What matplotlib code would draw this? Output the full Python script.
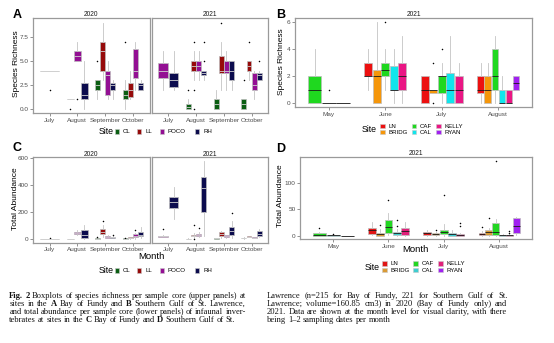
import matplotlib
matplotlib.use("Agg")
import matplotlib.pyplot as plt
from matplotlib.patches import Rectangle

plt.rcParams['font.family'] = ['Liberation Sans', 'DejaVu Sans']

# months on the x axis of each region
bof_months = ["July", "August", "September", "October"]
gsl_months = ["May", "June", "July", "August"]

# sites and fill colours
bof_sites = ["CL", "LL", "POCO", "RH"]
bof_colors = ["#0b5e13", "#960a0a", "#930f93", "#0c0c4e"]
gsl_sites = ["LN", "BRIDG", "CAF", "CAL", "KELLY", "RYAN"]
gsl_colors = ["#ec1010", "#f5960a", "#1fd81f", "#10e5ec", "#ea1684", "#a020f0"]
gsl_colors_ab = ["#e01515", "#d99a35", "#22d622", "#3fcdd0", "#e0207a", "#a020f0"]

# rows: month, site, whisker low, q1, median, q3, whisker high, outliers
rich_bof_2020 = [
    ("July", "CL", 4, 4, 4, 4, 4, [2]),
    ("August", "CL", 1, 1, 1, 1, 1, [0]),
    ("August", "POCO", 5, 5, 5.5, 6, 7, [1]),
    ("August", "RH", 0, 1, 1.5, 2.75, 5, []),
    ("September", "CL", 1, 2, 2.5, 3, 3, [5]),
    ("September", "LL", 3, 4, 6, 7, 9, []),
    ("September", "POCO", 1, 1.5, 3.5, 4, 5, []),
    ("September", "RH", 1, 2, 2.5, 2.75, 3, []),
    ("October", "CL", 0, 1, 1.5, 2, 3, [7]),
    ("October", "LL", 1, 1.25, 2, 2.75, 4, []),
    ("October", "POCO", 2, 3.25, 4, 6.25, 7, []),
    ("October", "RH", 2, 2, 2.5, 2.75, 3, []),
]
rich_bof_2021 = [
    ("July", "POCO", 2, 3.25, 4, 4.75, 6, []),
    ("July", "RH", 2, 2.25, 3, 3.75, 6, []),
    ("August", "CL", 0, 0, 0.25, 0.5, 1, [2]),
    ("August", "LL", 3, 4, 4.5, 5, 6, [7, 2, 0]),
    ("August", "POCO", 3, 4, 4.5, 5, 6, []),
    ("August", "RH", 3, 3.5, 3.75, 4, 4, [5, 7]),
    ("September", "CL", 0, 0, 0.5, 1, 2, []),
    ("September", "LL", 2, 3.75, 4, 5.5, 7, [9]),
    ("September", "POCO", 2, 3.75, 4, 5, 6, []),
    ("September", "RH", 2, 3, 4, 5, 5, []),
    ("October", "CL", 0, 0, 0.5, 1, 1, [3]),
    ("October", "LL", 3, 4, 4.5, 5, 5, [7]),
    ("October", "POCO", 1, 2, 2.5, 3.75, 4, []),
    ("October", "RH", 3, 3, 3.5, 3.75, 4, [5]),
]
rich_gsl_2021 = [
    ("May", "CAF", 0, 0, 1, 2, 4, []),
    ("May", "CAL", 0, 0, 0, 0, 0, [1]),
    ("May", "KELLY", 0, 0, 0, 0, 0, []),
    ("June", "LN", 1, 2, 2, 3, 4, []),
    ("June", "BRIDG", 0, 0, 2, 2.5, 6, []),
    ("June", "CAF", 1, 2, 2.5, 3, 4, [6]),
    ("June", "CAL", 0, 1, 1, 2.75, 4, []),
    ("June", "KELLY", 0, 1, 2, 3, 5, []),
    ("July", "LN", 0, 0, 1, 2, 2, []),
    ("July", "BRIDG", 0.75, 0.75, 1, 1, 1, [0, 3]),
    ("July", "CAF", 0, 0.75, 2, 2, 3, [4]),
    ("July", "CAL", 0, 0, 1, 2.25, 5, []),
    ("July", "KELLY", 0, 0, 1, 2, 3, []),
    ("August", "LN", 0, 0.75, 1, 2, 3, []),
    ("August", "BRIDG", 0, 0, 1, 2, 3, []),
    ("August", "CAF", 0, 1, 2, 4, 5, []),
    ("August", "CAL", 0, 0, 0, 1, 2, []),
    ("August", "KELLY", 0, 0, 0, 1, 1, []),
    ("August", "RYAN", 1, 1, 1.5, 2, 2, []),
]
abund_bof_2020 = [
    ("July", "CL", 0, 2, 2, 2, 4, [8]),
    ("August", "CL", 0, 0, 0, 0, 0, []),
    ("August", "POCO", 25, 35, 45, 50, 65, []),
    ("August", "RH", 0, 5, 30, 62, 105, []),
    ("September", "CL", 0, 1, 2, 3, 5, [10]),
    ("September", "LL", 15, 35, 52, 70, 100, [135]),
    ("September", "POCO", 5, 8, 12, 18, 25, []),
    ("September", "RH", 5, 8, 10, 14, 20, [25]),
    ("October", "CL", 0, 1, 2, 3, 5, [8]),
    ("October", "LL", 2, 4, 6, 10, 15, []),
    ("October", "POCO", 2, 10, 20, 32, 45, [68]),
    ("October", "RH", 5, 18, 28, 50, 90, []),
]
abund_bof_2021 = [
    ("July", "POCO", 10, 15, 18, 22, 30, [70]),
    ("July", "RH", 145, 230, 270, 307, 382, []),
    ("August", "CL", 0, 0, 0, 2, 3, []),
    ("August", "LL", 8, 18, 22, 27, 40, [100, 0]),
    ("August", "POCO", 15, 20, 25, 35, 50, [80]),
    ("August", "RH", 20, 200, 375, 462, 580, []),
    ("September", "CL", 0, 1, 3, 5, 8, []),
    ("September", "LL", 5, 17, 35, 50, 60, []),
    ("September", "POCO", 8, 12, 18, 25, 30, []),
    ("September", "RH", 5, 25, 55, 87, 130, [190]),
    ("October", "CL", 0, 3, 5, 8, 10, []),
    ("October", "LL", 10, 12, 15, 18, 20, []),
    ("October", "POCO", 3, 5, 8, 10, 12, []),
    ("October", "RH", 10, 20, 35, 55, 70, []),
]
abund_gsl_2021 = [
    ("May", "CAF", 0, 0, 2, 4.5, 6, [14]),
    ("May", "CAL", 0, 0, 1, 1, 2, [3]),
    ("May", "KELLY", 0, 0, 0, 0, 0, []),
    ("June", "LN", 2, 3, 10, 14, 26, []),
    ("June", "BRIDG", 0, 0, 3, 5, 12, [20]),
    ("June", "CAF", 2, 4.5, 17, 30, 42, [68]),
    ("June", "CAL", 0, 2, 4, 7, 12, [18, 29]),
    ("June", "KELLY", 0, 1, 8, 14, 26, []),
    ("July", "LN", 0, 1, 4, 7, 11, []),
    ("July", "BRIDG", 0, 1, 3, 4, 7, [11]),
    ("July", "CAF", 0, 3, 6, 10, 22, [76]),
    ("July", "CAL", 0, 0, 3, 5, 10, []),
    ("July", "KELLY", 0, 0, 2, 3, 5, [19, 24]),
    ("August", "LN", 0, 1, 3, 5, 8, [16]),
    ("August", "BRIDG", 0, 1, 7.5, 10, 15, [33]),
    ("August", "CAF", 0, 1, 7, 24, 32, [141]),
    ("August", "CAL", 0, 0, 1, 2, 3, []),
    ("August", "KELLY", 0, 0, 1, 2, 3, [5, 8]),
    ("August", "RYAN", 2, 5, 19, 33, 35, []),
]

caption_left = [
    "*Fig.* *2* Boxplots of species richness per sample core (upper panels) at",
    "sites in the *A* Bay of Fundy and *B* Southern Gulf of St. Lawrence,",
    "and total abundance per sample core (lower panels) of infaunal inver-",
    "tebrates at sites in the *C* Bay of Fundy and *D* Southern Gulf of St.",
]
caption_right = [
    "Lawrence (n=215 for Bay of Fundy, 221 for Southern Gulf of St.",
    "Lawrence; volume=160.85 cm3) in 2020 (Bay of Fundy only) and",
    "2021. Data are shown at the month level for visual clarity, with there",
    "being 1\u20132 sampling dates per month",
]

W, H = 554, 343
fig = plt.figure(figsize=(W / 100, H / 100), dpi=100)
fig.patch.set_facecolor('white')

GRID = '#9a9a9a'
TICKTXT = '#4d4d4d'


def px_axes(x0, y0, x1, y1):
    return fig.add_axes([x0 / W, 1 - y1 / H, (x1 - x0) / W, (y1 - y0) / H])


def draw_facet(ax, rows, months, sites, colors, med_color, ylim, yticks, ylabels):
    stats, pos, wid, cols = [], [], [], []
    for m, month in enumerate(months, start=1):
        here = [r for r in rows if r[0] == month]
        here.sort(key=lambda r: sites.index(r[1]))
        if not here:
            continue
        w = 0.75 / len(here)
        for i, r in enumerate(here):
            stats.append(dict(whislo=r[2], q1=r[3], med=r[4], q3=r[5],
                              whishi=r[6], fliers=r[7]))
            pos.append(m - 0.375 + w * (i + 0.5))
            wid.append(w * 0.94)
            cols.append(colors[sites.index(r[1])])
    bp = ax.bxp(stats, positions=pos, widths=wid, patch_artist=True,
                showcaps=False, manage_ticks=False,
                boxprops=dict(edgecolor='#bdbdbd', linewidth=0.5),
                whiskerprops=dict(color='#c4c4c4', linewidth=0.6),
                medianprops=dict(color=med_color, linewidth=0.6),
                flierprops=dict(marker='o', markersize=1.1,
                                markerfacecolor='black', markeredgecolor='black',
                                markeredgewidth=0))
    for b, c in zip(bp['boxes'], cols):
        b.set_facecolor(c)
    ax.set_xlim(0.4, 4.6)
    ax.set_ylim(*ylim)
    ax.set_xticks(range(1, 5))
    ax.set_xticklabels(months)
    ax.set_yticks(yticks)
    if ylabels is None:
        ax.tick_params(axis='y', left=False, labelleft=False)
    else:
        ax.set_yticklabels(ylabels)
    ax.tick_params(length=2, width=0.5, color='#666666', labelsize=4.6,
                   labelcolor=TICKTXT, pad=1.2)
    for s in ax.spines.values():
        s.set_color(GRID)
        s.set_linewidth(0.9)


def ftext(x, y, s, **kw):
    return fig.text(x / W, 1 - y / H, s, **kw)


def legend(x_site, y_site, keys, colors):
    ftext(x_site, y_site, "Site", fontsize=6.3, va='center', ha='left')
    for (kx, ky, label), c in zip(keys, colors):
        fig.add_artist(Rectangle(((kx - 2.3) / W, 1 - (ky + 2.3) / H), 4.6 / W, 4.6 / H,
                                 transform=fig.transFigure, facecolor=c,
                                 edgecolor='#c8c8c8', linewidth=0.4))
        ftext(kx + 6, ky, label, fontsize=4.4, va='center', ha='left')


# A: species richness, Bay of Fundy
a20 = px_axes(33, 18.3, 149.5, 113.3)
a21 = px_axes(151.7, 18.3, 268.3, 113.3)
rich_ticks = [0, 2.5, 5, 7.5]
draw_facet(a20, rich_bof_2020, bof_months, bof_sites, bof_colors, '#d0d0d0',
           (-0.45, 9.45), rich_ticks, ["0.0", "2.5", "5.0", "7.5"])
draw_facet(a21, rich_bof_2021, bof_months, bof_sites, bof_colors, '#d0d0d0',
           (-0.45, 9.45), rich_ticks, None)

# B: species richness, Southern Gulf of St. Lawrence
b = px_axes(295, 18.3, 532.3, 107.3)
draw_facet(b, rich_gsl_2021, gsl_months, gsl_sites, gsl_colors, '#1a1a1a',
           (-0.3, 6.3), [0, 2, 4, 6], ["0", "2", "4", "6"])

# C: total abundance, Bay of Fundy
c20 = px_axes(33, 156.7, 149.5, 242.7)
c21 = px_axes(151.7, 156.7, 268.3, 242.7)
draw_facet(c20, abund_bof_2020, bof_months, bof_sites, bof_colors, '#d0d0d0',
           (-29, 609), [0, 200, 400, 600], ["0", "200", "400", "600"])
draw_facet(c21, abund_bof_2021, bof_months, bof_sites, bof_colors, '#d0d0d0',
           (-29, 609), [0, 200, 400, 600], None)

# D: total abundance, Southern Gulf of St. Lawrence
d = px_axes(300, 157.3, 532.3, 239.3)
draw_facet(d, abund_gsl_2021, gsl_months, gsl_sites, gsl_colors_ab, '#1a1a1a',
           (-7, 148), [0, 50, 100], ["0", "50", "100"])

# facet strips
for x, y, s in [(91.3, 15, "2020"), (210, 15, "2021"), (413.6, 15, "2021"),
                (91.3, 154.5, "2020"), (210, 154.5, "2021"), (416, 153.8, "2021")]:
    ftext(x, y, s, fontsize=4.8, color='#1a1a1a', ha='center', va='center')

# panel letters
for x, y, s in [(12.5, 15, "A"), (276, 15, "B"), (12.5, 148.3, "C"), (276, 149.3, "D")]:
    ftext(x, y, s, fontsize=9, weight='bold', ha='left', va='center')

# axis titles
ftext(16.8, 64, "Species Richness", fontsize=6.0, rotation=90, ha='center', va='center')
ftext(281.8, 62, "Species Richness", fontsize=6.0, rotation=90, ha='center', va='center')
ftext(15.5, 199, "Total Abundance", fontsize=6.0, rotation=90, ha='center', va='center')
ftext(281.0, 196, "Total Abundance", fontsize=6.0, rotation=90, ha='center', va='center')
ftext(151, 256.5, "Month", fontsize=6.8, ha='center', va='center')
ftext(415, 249.5, "Month", fontsize=6.8, ha='center', va='center')

# legends
bof_key_x = [117, 139, 162, 197]
legend(99, 131.7, [(x, 131.7, s) for x, s in zip(bof_key_x, bof_sites)], bof_colors)
legend(99, 270.7, [(x, 270.7, s) for x, s in zip(bof_key_x, bof_sites)], bof_colors)

gsl_cols_b = [382.3, 382.3, 414, 414, 438.3, 438.3]
gsl_rows_b = [126, 132, 126, 132, 126, 132]
order = [0, 1, 2, 3, 4, 5]
legend(361.5, 130, [(gsl_cols_b[i], gsl_rows_b[i], gsl_sites[i]) for i in order], gsl_colors)
gsl_cols_d = [384.3, 384.3, 415.7, 415.7, 440.7, 440.7]
gsl_rows_d = [263.5, 270, 263.5, 270, 263.5, 270]
legend(364.5, 268, [(gsl_cols_d[i], gsl_rows_d[i], gsl_sites[i]) for i in order], gsl_colors_ab)

# caption, set word by word so each column is justified
renderer = fig.canvas.get_renderer()
SERIF = 'Liberation Serif'


def word_width(s, weight, size):
    t = fig.text(0, 0, s, fontsize=size, family=SERIF, weight=weight)
    w = t.get_window_extent(renderer).width
    t.remove()
    return w


def tokens(line):
    out = []
    for tok in line.split(" "):
        bold = tok.startswith("*") and tok.endswith("*")
        out.append((tok.strip("*"), 'bold' if bold else 'normal'))
    return out


# font size chosen so the widest justified line fits its column with normal spaces
col_w = 236.4
ref = 10.0
fits = []
for line in caption_left + caption_right[:-1]:
    tk = tokens(line)
    nat = sum(word_width(s, wt, ref) for s, wt in tk) + (len(tk) - 1) * ref * 100 / 72 * 0.25
    fits.append(col_w / nat * ref)
CAP = min(fits)


def set_column(lines, x0, x1, y0, step):
    for k, line in enumerate(lines):
        words = [(s, wt, word_width(s, wt, CAP)) for s, wt in tokens(line)]
        total = sum(w for _, _, w in words)
        natural = CAP * 100 / 72 * 0.25
        last = k == len(lines) - 1
        gap = natural if last else (x1 - x0 - total) / (len(words) - 1)
        x = x0
        y = y0 + k * step
        for s, wt, w in words:
            ftext(x, y, s, fontsize=CAP, family=SERIF, weight=wt,
                  ha='left', va='baseline', color='#111111')
            x += w + gap


set_column(caption_left, 9.3, 245.7, 297.5, 8)
set_column(caption_right, 266.7, 507.3, 297.5, 8)

fig.savefig("out.png", dpi=100)
